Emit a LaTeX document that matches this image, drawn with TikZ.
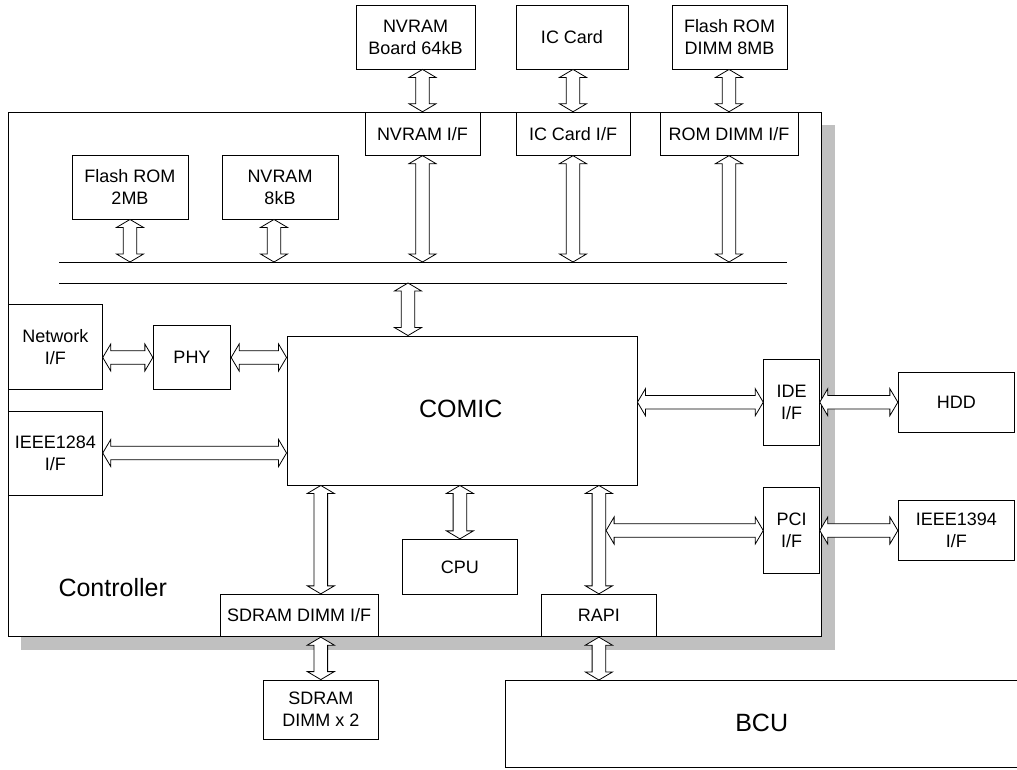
\documentclass[tikz,border=0pt]{standalone}
\usepackage{fontspec}
\setmainfont{Liberation Sans}
\usetikzlibrary{calc}
\definecolor{shadowgray}{HTML}{C0C0C0}
\tikzset{
  blk/.style={draw, fill=white, line width=0.9pt, inner sep=0pt, align=center,
              font=\fontsize{18}{22}\selectfont},
  big/.style={inner sep=0pt, font=\fontsize{25}{30}\selectfont},
  darr/.style={draw, fill=white, line width=0.8pt, line join=miter},
  busline/.style={line width=0.9pt},
  frame/.style={draw, fill=white, line width=0.9pt, inner sep=0pt},
}
\newcommand\dbl[2]{%
  \coordinate (dA) at (#1);
  \coordinate (dB) at (#2);
  \coordinate (tA) at ($(dA)!8pt!(dB)$);
  \coordinate (tB) at ($(dB)!8pt!(dA)$);
  \draw[darr] (dA) -- ($(tA)!13.5pt!90:(dB)$) -- ($(tA)!6.8pt!90:(dB)$)
    -- ($(tB)!6.8pt!-90:(dA)$) -- ($(tB)!13.5pt!-90:(dA)$) -- (dB)
    -- ($(tB)!13.5pt!90:(dA)$) -- ($(tB)!6.8pt!90:(dA)$)
    -- ($(tA)!6.8pt!-90:(dB)$) -- ($(tA)!13.5pt!-90:(dB)$) -- cycle;}
\begin{document}
\begin{tikzpicture}[x=1pt,y=-1pt]
\useasboundingbox (0,0) rectangle (1017,769);
% controller with shadow
\fill[shadowgray] (21,125) rectangle (835,650);
\node[frame, minimum width=813.4pt, minimum height=524.4pt] (ctrl) at (415,374.5) {};
\node[big, anchor=base] (ctrltxt) at (112.7,596) {Controller};

% top external boxes
\node[blk, minimum width=119pt, minimum height=64pt] (nvb) at (415.5,37) {NVRAM\\Board 64kB};
\node[blk, minimum width=112pt, minimum height=64pt] (icc) at (572,37) {IC Card};
\node[blk, minimum width=115pt, minimum height=64pt] (frd) at (729.5,37) {Flash ROM\\DIMM 8MB};
% interface boxes on top edge
\node[blk, minimum width=115pt, minimum height=43pt] (nvif) at (422.5,133.7) {NVRAM I/F};
\node[blk, minimum width=114pt, minimum height=43pt] (icif) at (573,133.7) {IC Card I/F};
\node[blk, minimum width=138pt, minimum height=43pt] (romif) at (729,133.7) {ROM DIMM I/F};
% internal memories
\node[blk, minimum width=116pt, minimum height=64pt] (fr2) at (130,187) {Flash ROM\\2MB};
\node[blk, minimum width=116pt, minimum height=64pt] (nv8) at (280,187) {NVRAM\\8kB};
% bus lines
\coordinate (bus1w) at (59,262);
\coordinate (bus1e) at (787,262);
\coordinate (bus2w) at (59,283);
\coordinate (bus2e) at (787,283);
\draw[busline] (bus1w) -- (bus1e);
\draw[busline] (bus2w) -- (bus2e);
% left side
\node[blk, minimum width=94pt, minimum height=85pt] (net) at (55.3,346.7) {Network\\I/F};
\node[blk, minimum width=77.4pt, minimum height=63.6pt] (phy) at (192,357.5) {PHY};
\node[blk, minimum width=94pt, minimum height=84pt] (i1284) at (55.3,453) {IEEE1284\\I/F};
% COMIC
\node[blk, minimum width=350pt, minimum height=149pt] (comic) at (462,410.5) {};
\node[big, anchor=base] (comictxt) at (460.8,417.3) {COMIC};
% right side
\node[blk, minimum width=55.6pt, minimum height=85.7pt] (ide) at (791.5,402.2) {IDE\\I/F};
\node[blk, minimum width=55.6pt, minimum height=85.6pt] (pci) at (791.5,530.5) {PCI\\I/F};
\node[blk, minimum width=116pt, minimum height=60pt] (hdd) at (956.3,402.3) {HDD};
\node[blk, minimum width=116pt, minimum height=59.3pt] (i1394) at (956.3,530.4) {IEEE1394\\I/F};
% bottom
\node[blk, minimum width=115.7pt, minimum height=55pt] (cpu) at (459.9,566.8) {CPU};
\node[blk, minimum width=158.3pt, minimum height=42.4pt] (sdif) at (299.2,615.5) {SDRAM DIMM I/F};
\node[blk, minimum width=115.7pt, minimum height=42.4pt] (rapi) at (598.9,615.5) {RAPI};
\node[blk, minimum width=115pt, minimum height=59.3pt] (sdx) at (320.8,709.7) {SDRAM\\DIMM x 2};
% BCU (right edge beyond the picture)
\coordinate (bcutl) at (505,680);
\coordinate (bcubl) at (505,767.3);
\draw[line width=0.9pt] (1030,680) -- (bcutl) -- (bcubl) -- (1030,767.3);
\node[big, anchor=base] (bcu) at (761.7,731.7) {BCU};

% connectors
\coordinate (comicbus) at ($(comic.north)+(-54,0)$);
\coordinate (nv8x) at ($(nv8.south)+(-6,0)$);
\coordinate (rapiR) at ($(rapi.north |- pci.west)+(7.2,0)$);

\dbl{nvif.north |- nvb.south}{nvif.north}
\dbl{icif.north |- icc.south}{icif.north}
\dbl{romif.north |- frd.south}{romif.north}
\dbl{nvif.south}{nvif.south |- bus1w}
\dbl{icif.south}{icif.south |- bus1w}
\dbl{romif.south}{romif.south |- bus1w}
\dbl{fr2.south}{fr2.south |- bus1w}
\dbl{nv8x}{nv8x |- bus1w}
\dbl{comicbus |- bus2w}{comicbus}
\dbl{net.east |- phy.west}{phy.west}
\dbl{phy.east}{phy.east -| comic.west}
\dbl{i1284.east}{i1284.east -| comic.west}
\dbl{ide.west -| comic.east}{ide.west}
\dbl{ide.east}{ide.east -| hdd.west}
\dbl{rapiR}{pci.west}
\dbl{pci.east}{pci.east -| i1394.west}
\dbl{sdx.north |- comic.south}{sdx.north |- sdif.north}
\dbl{sdx.north |- sdif.south}{sdx.north}
\dbl{cpu.north |- comic.south}{cpu.north}
\dbl{rapi.north |- comic.south}{rapi.north}
\dbl{rapi.south}{rapi.south |- bcutl}
\end{tikzpicture}
\end{document}
